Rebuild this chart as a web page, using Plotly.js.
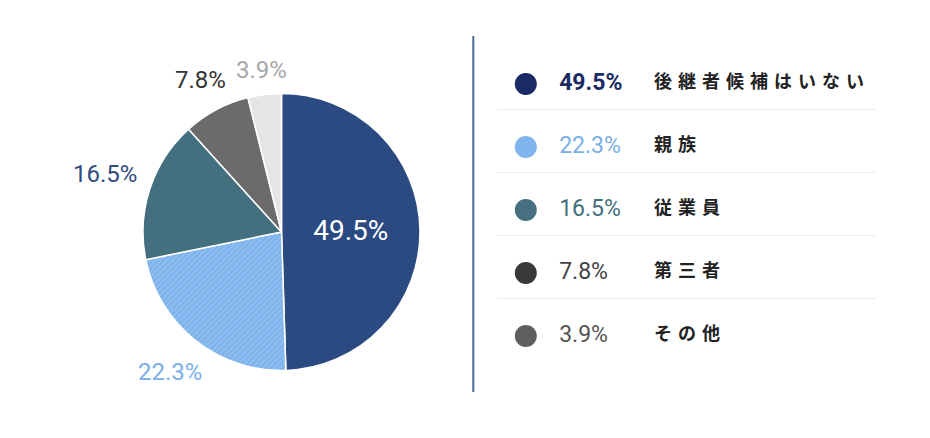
<!DOCTYPE html>
<html>
<head>
<meta charset="utf-8">
<script src="https://cdn.plot.ly/plotly-3.0.1.min.js"></script>
<style>
  html, body { margin: 0; padding: 0; background: #fff; }
  #chart { width: 930px; height: 438px; }
  #chart .scatterlayer .trace:last-child .textpoint text { letter-spacing: 6px; }
</style>
</head>
<body>
<div id="chart"></div>
<script>
// ---- data ----
const categories = ['後継者候補はいない', '親族', '従業員', '第三者', 'その他'];
const values = [49.5, 22.3, 16.5, 7.8, 3.9];

// ---- styles ----
const sliceColors = ['#2b4a82', '#8dbdf0', '#436f7e', '#6b6b6b', '#e5e5e5'];
const sliceLabelColors = ['#ffffff', '#7ab0ea', '#2f4c7e', '#333333', '#a6a6a6'];
const legendDotColors = ['#1b2a63', '#80b4ec', '#466f80', '#383838', '#5e5e5e'];
const legendPctColors = ['#1b2a63', '#7ab0ea', '#436f7e', '#444444', '#555555'];

const pctFont = 'Roboto, "DejaVu Sans", sans-serif';
const jpFont = '"Noto Sans CJK JP", "Noto Sans", sans-serif';

const rows = categories.map((_, i) => i);

// pie geometry (pixels)
const W = 930, H = 438;
const cx = 281.5, cy = 232, R = 138.5;

const pie = {
  type: 'pie',
  values: values,
  labels: categories,
  sort: false,
  direction: 'clockwise',
  rotation: 0,
  domain: { x: [(cx - R) / W, (cx + R) / W], y: [1 - (cy + R) / H, 1 - (cy - R) / H] },
  marker: {
    colors: sliceColors,
    line: { color: '#ffffff', width: 1.5 },
    pattern: {
      shape: ['', '/', '', '', ''],
      bgcolor: sliceColors,
      fgcolor: '#78aee9',
      size: 4,
      solidity: 0.35
    }
  },
  texttemplate: values.map((v, i) => (i === 0 ? '%{value:.1f}%' : '')),
  textposition: 'inside',
  insidetextorientation: 'horizontal',
  textfont: { family: pctFont, color: '#ffffff', size: 28 },
  hoverinfo: 'label+value',
  showlegend: false
};

// outside labels: placed on each slice's bisector, computed from the values
const total = values.reduce((a, b) => a + b, 0);
const annotations = [];
let cum = 0;
values.forEach((v, i) => {
  const mid = (cum + v / 2) / total * 2 * Math.PI;
  cum += v;
  if (i === 0) return;
  const txt = v.toFixed(1) + '%';
  const fs = 24;
  const w = txt.length * 0.56 * fs, h = 0.72 * fs;
  const s = Math.sin(mid), c = Math.cos(mid);
  const d = R + 13 + Math.abs(s) * w / 2 + Math.abs(c) * h / 2;
  const px = cx + s * d, py = cy - c * d;
  annotations.push({
    xref: 'paper', yref: 'paper', x: px / W, y: 1 - py / H,
    xanchor: 'center', yanchor: 'middle', showarrow: false,
    text: txt,
    font: { family: pctFont, size: fs, color: sliceLabelColors[i] }
  });
});

const dots = {
  type: 'scatter', mode: 'markers',
  x: rows.map(() => 7.6), y: rows,
  marker: { size: 22, color: legendDotColors },
  hoverinfo: 'skip', showlegend: false, cliponaxis: false
};

const pcts = {
  type: 'scatter', mode: 'text',
  x: rows.map(() => 16.4), y: rows,
  text: values.map((v, i) => (i === 0 ? '<b>' + v.toFixed(1) + '%</b>' : v.toFixed(1) + '%')),
  textposition: 'middle right',
  textfont: { family: pctFont, size: 23, color: legendPctColors },
  hoverinfo: 'skip', showlegend: false, cliponaxis: false
};

const names = {
  type: 'scatter', mode: 'text',
  x: rows.map(() => 41.4), y: rows,
  text: categories,
  textposition: 'middle right',
  textfont: { family: jpFont, size: 18, color: '#222222', weight: 700 },
  hoverinfo: 'skip', showlegend: false, cliponaxis: false
};

const layout = {
  width: W, height: H,
  margin: { l: 0, r: 0, t: 0, b: 0 },
  paper_bgcolor: '#ffffff', plot_bgcolor: 'rgba(0,0,0,0)',
  showlegend: false,
  xaxis: {
    domain: [497 / W, 876 / W], range: [0, 100],
    showgrid: false, zeroline: false, showticklabels: false, showline: false, fixedrange: true
  },
  yaxis: {
    domain: [1 - 373.8 / H, 1 - 27.3 / H], range: [4.6, -0.9],
    tickvals: [0.41, 1.41, 2.41, 3.41],
    showgrid: true, gridcolor: '#ececec', gridwidth: 1,
    zeroline: false, showticklabels: false, ticks: '', showline: false, fixedrange: true
  },
  annotations: annotations,
  shapes: [{
    type: 'line', xref: 'paper', yref: 'paper',
    x0: 473.3 / W, x1: 473.3 / W, y0: 1 - 392 / H, y1: 1 - 36 / H,
    line: { color: '#4a6a94', width: 2 }
  }]
};

Plotly.newPlot('chart', [pie, dots, pcts, names], layout, { displayModeBar: false, staticPlot: true });
</script>
</body>
</html>
